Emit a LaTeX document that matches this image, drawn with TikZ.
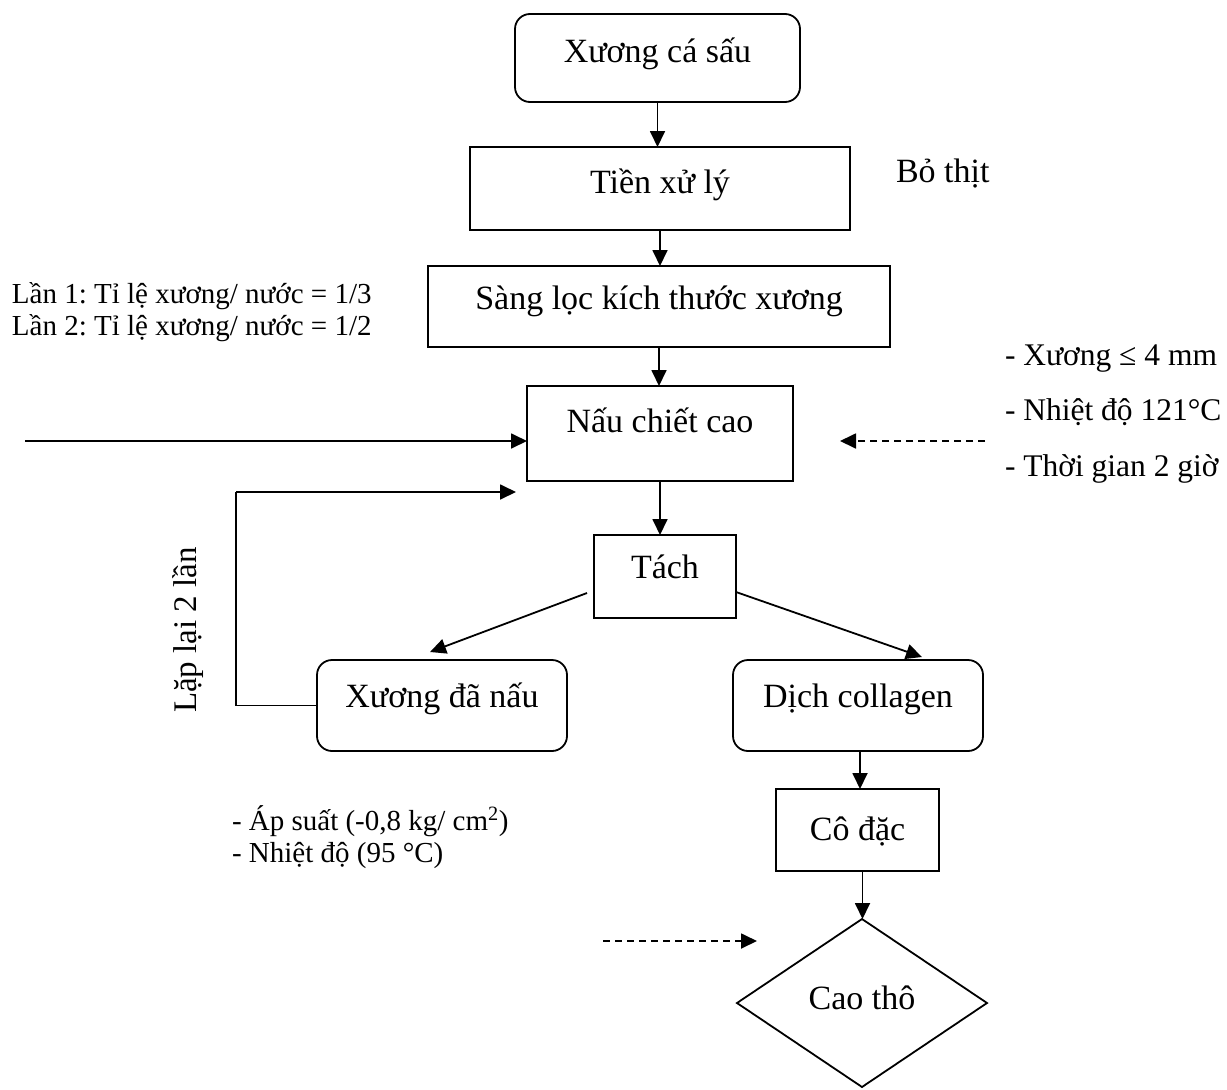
\documentclass[tikz,border=0pt]{standalone}
\usepackage{fontspec}
\setmainfont{Liberation Serif}
\usetikzlibrary{arrows.meta,shapes.geometric}
\frenchspacing
\begin{document}
\begin{tikzpicture}[x=1pt,y=-1pt,
  every node/.style={inner sep=0pt, outer sep=0pt},
  stage/.style={draw, line width=1.8pt, font=\fontsize{34}{40}\selectfont},
  roundstage/.style={stage, rounded corners=15pt},
  note/.style={anchor=base west, font=\fontsize{29}{34}\selectfont},
  bignote/.style={anchor=base west, font=\fontsize{34}{40}\selectfont},
  sidenote/.style={anchor=base west, font=\fontsize{31.5}{36}\selectfont},
  flow/.style={line width=1.8pt, -{Triangle[length=16pt,width=15pt]}},
  dashflow/.style={flow, dash pattern=on 7pt off 5pt}]
\useasboundingbox (0,0) rectangle (1227,1090);

% process stages
\node[roundstage, minimum width=285pt, text height=48pt, text depth=40pt] (raw) at (657.5,58) {Xương cá sấu};
\node[stage, minimum width=380pt, text height=46pt, text depth=37pt] (prep) at (660,188.5) {Tiền xử lý};
\node[stage, minimum width=462pt, text height=43pt, text depth=38pt] (sieve) at (659,306.5) {Sàng lọc kích thước xương};
\node[stage, minimum width=266pt, text height=46pt, text depth=49pt] (cook) at (660,433.5) {Nấu chiết cao};
\node[stage, minimum width=142pt, text height=43pt, text depth=40pt] (split) at (665,576.5) {Tách};
\node[roundstage, minimum width=250pt, text height=47pt, text depth=44pt] (bone) at (442,705.5) {Xương đã nấu};
\node[roundstage, minimum width=250pt, text height=47pt, text depth=44pt] (liquor) at (858,705.5) {Dịch collagen};
\node[stage, minimum width=163pt, text height=51pt, text depth=31pt] (conc) at (857.5,830) {Cô đặc};
\node[stage, diamond, minimum width=250pt, minimum height=168pt, text height=20pt, text depth=8pt] (crude) at (862,1003) {Cao thô};

% side notes
\node[bignote] (meat) at (896,182) {Bỏ thịt};
\node[note] (ratioA) at (12,303) {Lần 1: Tỉ lệ xương/ nước = 1/3};
\node[note] (ratioB) at (12,335) {Lần 2: Tỉ lệ xương/ nước = 1/2};
\node[sidenote] (size) at (1005,365) {- Xương ≤ 4 mm};
\node[sidenote] (temp) at (1005,420) {- Nhiệt độ 121°C};
\node[sidenote] (time) at (1005,476) {- Thời gian 2 giờ};
\node[note] (press) at (232,830) {- Áp suất (-0,8 kg/ cm\textsuperscript{2})};
\node[note] (evtemp) at (232,862) {- Nhiệt độ (95 °C)};
\node[rotate=90, font=\fontsize{33}{38}\selectfont] (repeat) at (188,630) {Lặp lại 2 lần};

% free ends of connectors
\coordinate (feedsrc) at (25,441);
\coordinate (heatsrc) at (985,441);
\coordinate (heattip) at (840,441);
\coordinate (loopleft) at (236,492);
\coordinate (loopin) at (516,492);
\coordinate (splitL) at (587,593);
\coordinate (boneTip) at (430,652);
\coordinate (splitR) at (736,592);
\coordinate (liquorTip) at (922,657);
\coordinate (vacsrc) at (603,941);
\coordinate (vactip) at (757,941);

% main flow
\draw[flow] (raw.south) -- (raw.south |- prep.north);
\draw[flow] (prep.south) -- (prep.south |- sieve.north);
\draw[flow] (sieve.south) -- (sieve.south |- cook.north);
\draw[flow] (cook.south) -- (cook.south |- split.north);
\draw[flow] (splitL) -- (boneTip);
\draw[flow] (splitR) -- (liquorTip);
\draw[flow] ([xshift=2pt]liquor.south) -- ([xshift=2pt]liquor.south |- conc.north);
\draw[flow] ([xshift=5pt]conc.south) -- ([xshift=5pt]conc.south |- crude.north);

% inputs and recycle loop
\draw[flow] (feedsrc) -- (feedsrc -| cook.west);
\draw[dashflow] (heatsrc) -- (heattip);
\draw[line width=1.8pt] (bone.west) -| (loopleft);
\draw[flow] (loopleft) -- (loopin);
\draw[dashflow] (vacsrc) -- (vactip);
\end{tikzpicture}
\end{document}
